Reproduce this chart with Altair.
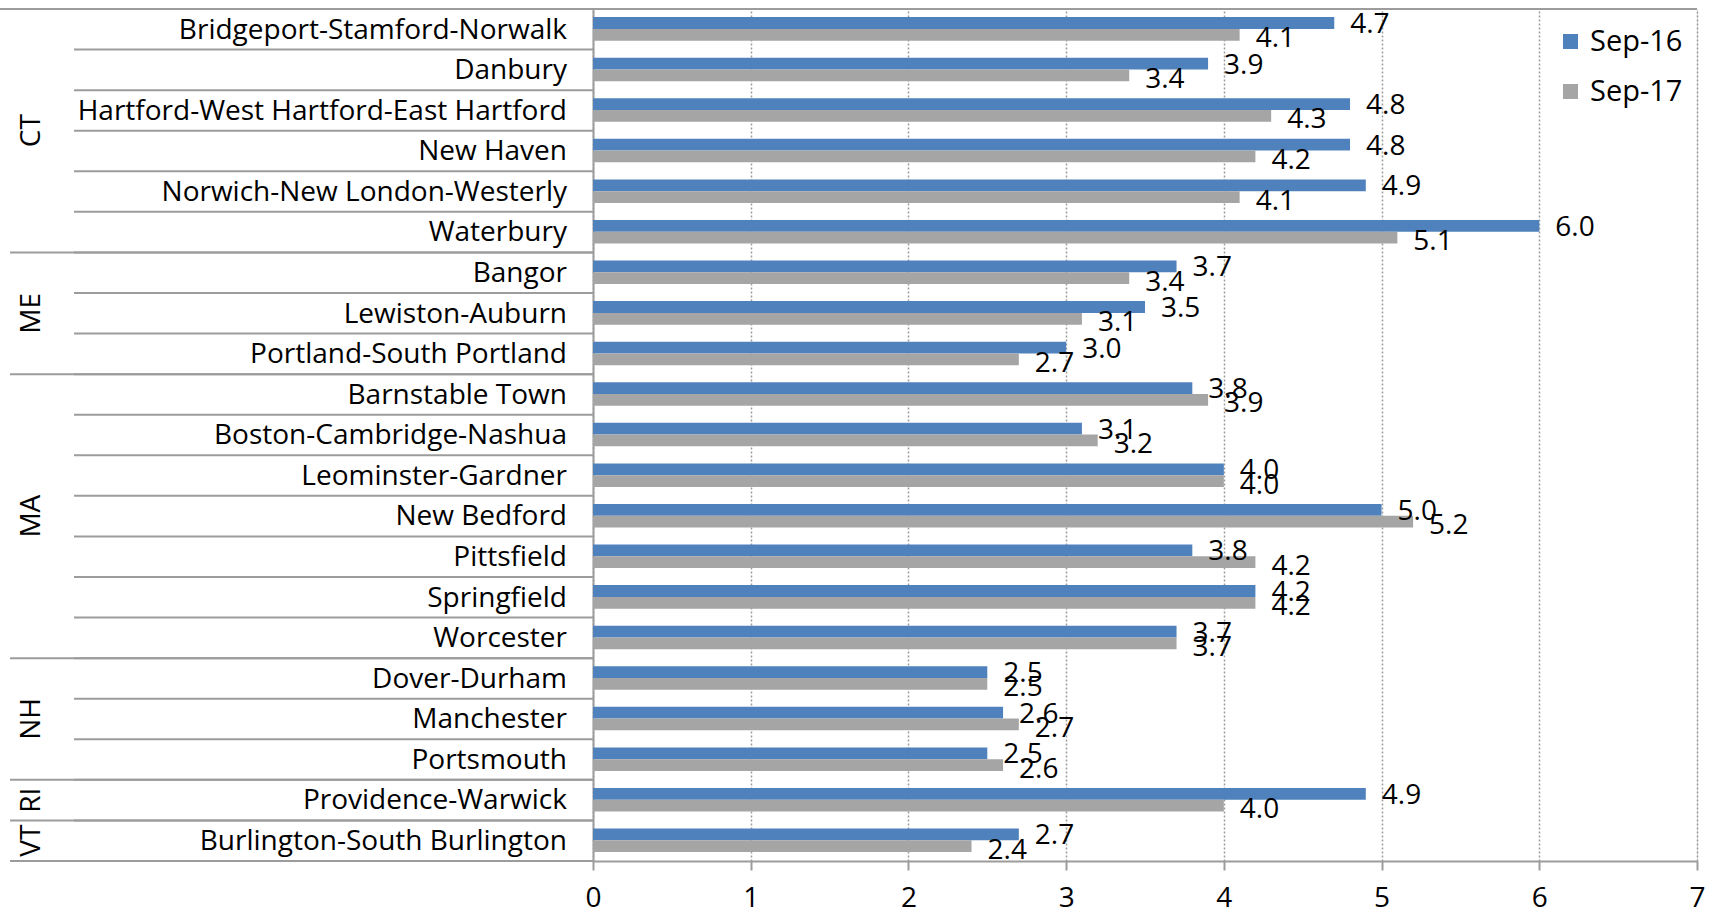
import altair as alt
import pandas as pd

# Unemployment rate by New England metro area, Sep-16 vs Sep-17
cities = [
    "Bridgeport-Stamford-Norwalk", "Danbury", "Hartford-West Hartford-East Hartford",
    "New Haven", "Norwich-New London-Westerly", "Waterbury",
    "Bangor", "Lewiston-Auburn", "Portland-South Portland",
    "Barnstable Town", "Boston-Cambridge-Nashua", "Leominster-Gardner",
    "New Bedford", "Pittsfield", "Springfield", "Worcester",
    "Dover-Durham", "Manchester", "Portsmouth",
    "Providence-Warwick",
    "Burlington-South Burlington",
]
states = ["CT"] * 6 + ["ME"] * 3 + ["MA"] * 7 + ["NH"] * 3 + ["RI", "VT"]
sep16 = [4.7, 3.9, 4.8, 4.8, 4.9, 6.0, 3.7, 3.5, 3.0, 3.8, 3.1, 4.0, 5.0, 3.8, 4.2, 3.7, 2.5, 2.6, 2.5, 4.9, 2.7]
sep17 = [4.1, 3.4, 4.3, 4.2, 4.1, 5.1, 3.4, 3.1, 2.7, 3.9, 3.2, 4.0, 5.2, 4.2, 4.2, 3.7, 2.5, 2.7, 2.6, 4.0, 2.4]
series = ["Sep-16", "Sep-17"]
colors = ["#4f81bd", "#a5a5a5"]
x_ticks = [0, 1, 2, 3, 4, 5, 6, 7]

FONT = "Open Sans"
FS = 28
LINE = "#9c9c9c"
W, H = 1104, 852
N = len(cities)

rows = pd.DataFrame({"city": cities, "state": states, "row": list(range(N))})
long = pd.concat(
    [
        pd.DataFrame({"city": cities, "row": list(range(N)), "series": s, "value": v})
        for s, v in zip(series, [sep16, sep17])
    ],
    ignore_index=True,
)

# group boundaries and centres for the state labels
bounds = [0] + [i for i in range(1, N) if states[i] != states[i - 1]] + [N]
groups = pd.DataFrame({
    "state": [states[b] for b in bounds[:-1]],
    "mid": [(a + b) / 2 for a, b in zip(bounds[:-1], bounds[1:])],
})
group_lines = pd.DataFrame({"b": bounds[1:]})
inner_lines = pd.DataFrame({"b": list(range(1, N))})

yscale = alt.Scale(domain=[0, N], reverse=True, nice=False, zero=False)
xscale = alt.Scale(domain=[0, 7], nice=False)

bars = alt.Chart(long).transform_calculate(
    y0="datum.row + (datum.series == 'Sep-16' ? 0.2 : 0.49)",
    y1="datum.row + (datum.series == 'Sep-16' ? 0.49 : 0.78)",
).mark_bar(cornerRadius=0).encode(
    x=alt.X("value:Q", scale=xscale, axis=alt.Axis(
        values=x_ticks, title=None, format="d",
        grid=True, gridColor=LINE, gridDash=[2, 2], gridWidth=1.5,
        domainColor=LINE, domainWidth=2,
        tickColor=LINE, tickWidth=2, tickSize=9,
        labelFont=FONT, labelFontSize=FS, labelColor="#000000",
        labelBaseline="alphabetic", labelPadding=36, labelFlush=False,
    )),
    x2=alt.datum(0),
    y=alt.Y("y0:Q", scale=yscale, axis=alt.Axis(
        labels=False, ticks=False, grid=False, title=None,
        domainColor=LINE, domainWidth=2,
    )),
    y2="y1:Q",
    color=alt.Color("series:N", scale=alt.Scale(domain=series, range=colors),
                    legend=alt.Legend(
                        title=None, orient="none", legendX=963, legendY=18,
                        symbolType="square", symbolSize=225, symbolStrokeWidth=0,
                        labelFont=FONT, labelFontSize=FS + 1, labelColor="#000000",
                        rowPadding=20, labelOffset=5,
                    )),
)

values = alt.Chart(long).transform_calculate(
    ty="datum.row + (datum.series == 'Sep-16' ? 0.59 : 0.945)"
).mark_text(align="left", baseline="alphabetic", dx=16, font=FONT, fontSize=FS,
            color="#000000").encode(
    x=alt.X("value:Q", scale=xscale),
    y=alt.Y("ty:Q", scale=yscale),
    text=alt.Text("value:Q", format=".1f"),
)

city_labels = alt.Chart(rows).transform_calculate(
    ty="datum.row + 0.73"
).mark_text(align="right", baseline="alphabetic", font=FONT, fontSize=FS,
            color="#000000").encode(
    x=alt.value(-26),
    y=alt.Y("ty:Q", scale=yscale),
    text="city:N",
)

state_labels = alt.Chart(groups).mark_text(
    align="center", baseline="middle", angle=270, font=FONT, fontSize=FS, color="#000000"
).encode(
    x=alt.value(-561),
    y=alt.Y("mid:Q", scale=yscale),
    text="state:N",
)

inner = alt.Chart(inner_lines).mark_rule(color=LINE, strokeWidth=2).encode(
    x=alt.value(-519), x2=alt.value(0), y=alt.Y("b:Q", scale=yscale)
)
outer = alt.Chart(group_lines).mark_rule(color=LINE, strokeWidth=2).encode(
    x=alt.value(-583), x2=alt.value(0), y=alt.Y("b:Q", scale=yscale)
)
top = alt.Chart(pd.DataFrame({"b": [0]})).mark_rule(color=LINE, strokeWidth=2).encode(
    x=alt.value(-593), x2=alt.value(W), y=alt.Y("b:Q", scale=yscale)
)

chart = alt.layer(inner, outer, top, bars, values, city_labels, state_labels).properties(
    width=W, height=H,
    padding={"left": 593, "top": 9, "right": 22, "bottom": 49},
    autosize=alt.AutoSizeParams(type="none"),
).configure_view(stroke=None).configure(background="#ffffff")

chart.save("out.html", embed_options={"renderer": "svg", "actions": False})
